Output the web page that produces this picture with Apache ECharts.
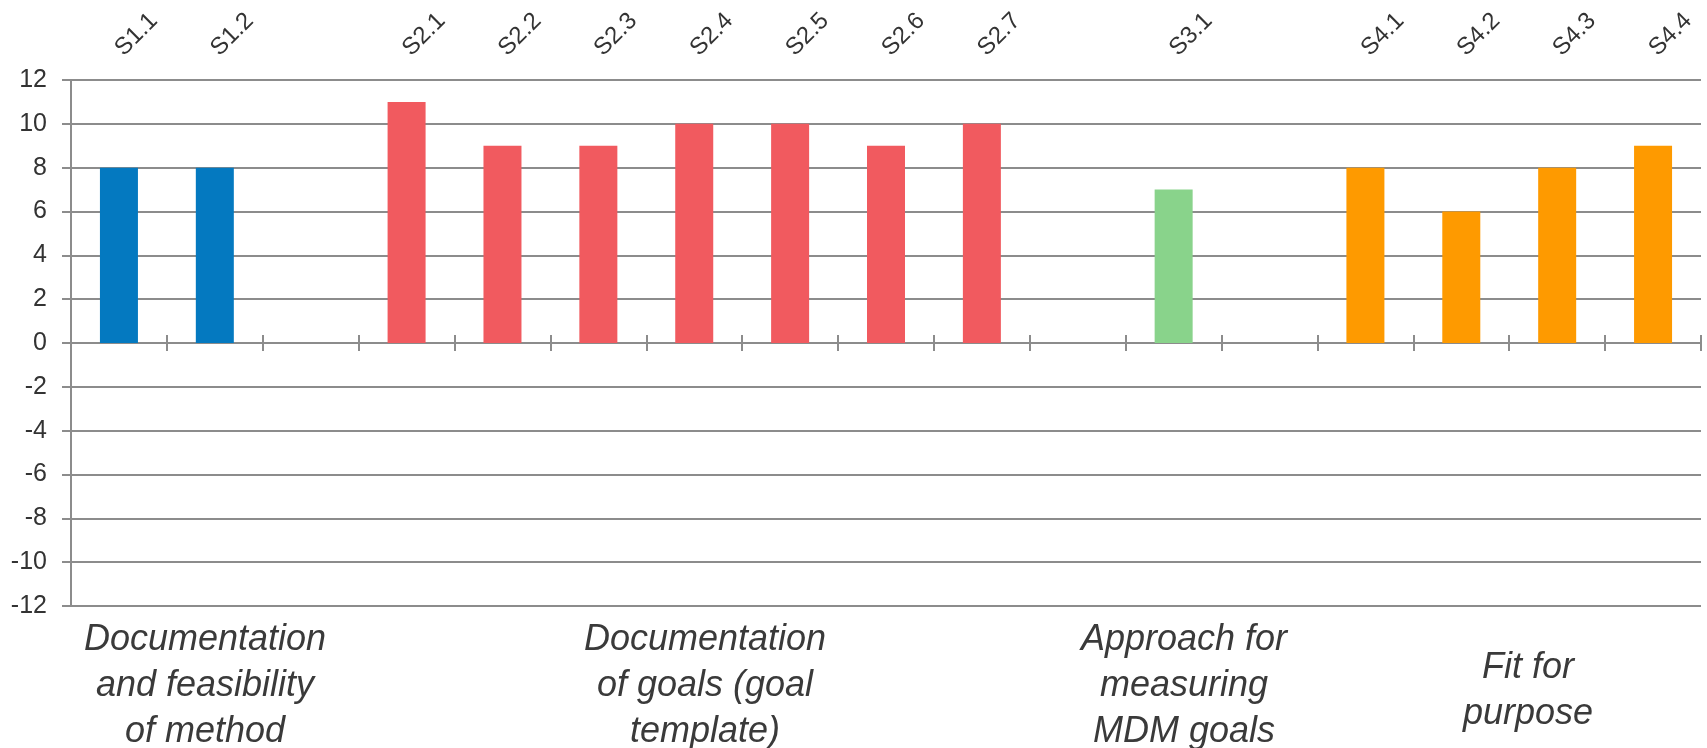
<!DOCTYPE html>
<html>
<head>
<meta charset="utf-8">
<script src="https://cdn.jsdelivr.net/npm/echarts@6/dist/echarts.min.js"></script>
<style>
  html, body { margin: 0; padding: 0; background: #ffffff; }
  #chart { width: 1707px; height: 748px; }
</style>
</head>
<body>
<div id="chart"></div>
<script>
// Criteria codes; empty strings are spacer slots between sections
const categories = ['S1.1', 'S1.2', '', 'S2.1', 'S2.2', 'S2.3', 'S2.4', 'S2.5', 'S2.6', 'S2.7', '', 'S3.1', '', 'S4.1', 'S4.2', 'S4.3', 'S4.4'];
// Score per criterion (null for spacer slots)
const scores = [8, 8, null, 11, 9, 9, 10, 10, 9, 10, null, 7, null, 8, 6, 8, 9];
// Section each slot belongs to (index into sectionColors / sectionTitles)
const sectionOf = [0, 0, 0, 1, 1, 1, 1, 1, 1, 1, 1, 2, 2, 3, 3, 3, 3];
const sectionColors = ['#0479c0', '#f15a5f', '#89d38b', '#fe9a00'];
const sectionTitles = [
  'Documentation\nand feasibility\nof method',
  'Documentation\nof goals (goal\ntemplate)',
  'Approach for\nmeasuring\nMDM goals',
  'Fit for\npurpose'
];
// Y axis range and step
const yMin = -12, yMax = 12, yStep = 2;

const gridColor = '#8c8c8c';
const textColor = '#333333';
const font = '"Liberation Sans", Arial, sans-serif';

const barData = scores.map((v, i) => ({
  value: v,
  itemStyle: { color: sectionColors[sectionOf[i]] }
}));

const chart = echarts.init(document.getElementById('chart'), null, { renderer: 'canvas' });

const grid = { left: 71, right: 6, top: 80, bottom: 142 };

// Section titles placed below the plot area
const titleX = [205, 705, 1184, 1528];
const titleY = [686, 686, 686, 691];
const graphics = sectionTitles.map((t, i) => ({
  type: 'text',
  x: titleX[i],
  y: titleY[i],
  style: {
    text: t,
    fill: '#3a3a3a',
    font: 'italic 36px ' + font,
    lineHeight: 46,
    align: 'center',
    verticalAlign: 'middle'
  },
  silent: true
}));

chart.setOption({
  animation: false,
  backgroundColor: '#ffffff',
  grid: grid,
  xAxis: [
    {
      // baseline at zero with downward ticks
      type: 'category',
      data: categories,
      position: 'bottom',
      boundaryGap: true,
      axisLine: { show: true, onZero: true, onZeroAxisIndex: 0, lineStyle: { color: gridColor, width: 2 } },
      axisTick: { show: true, inside: false, length: 8, lineStyle: { color: gridColor, width: 2 } },
      axisLabel: { show: false },
      splitLine: { show: false }
    },
    {
      // upward half of the crossing ticks on the zero line
      type: 'category',
      data: categories,
      position: 'bottom',
      boundaryGap: true,
      axisLine: { show: false, onZero: true, onZeroAxisIndex: 0 },
      axisTick: { show: true, inside: true, length: 8, lineStyle: { color: gridColor, width: 2 } },
      axisLabel: { show: false },
      splitLine: { show: false }
    },
    {
      // rotated criterion codes above the plot
      type: 'category',
      data: categories,
      position: 'top',
      boundaryGap: true,
      axisLine: { show: false, onZero: false },
      axisTick: { show: false },
      axisLabel: {
        show: true,
        rotate: -45,
        margin: 28,
        interval: 0,
        color: textColor,
        fontFamily: font,
        fontSize: 24
      },
      splitLine: { show: false }
    }
  ],
  yAxis: {
    type: 'value',
    min: yMin,
    max: yMax,
    interval: yStep,
    axisLine: { show: true, onZero: false, lineStyle: { color: gridColor, width: 2 } },
    axisTick: { show: true, length: 9, lineStyle: { color: gridColor, width: 2 } },
    axisLabel: {
      color: textColor,
      fontFamily: font,
      fontSize: 25,
      margin: 24
    },
    splitLine: { show: true, lineStyle: { color: gridColor, width: 2 } }
  },
  series: [
    {
      type: 'bar',
      xAxisIndex: 0,
      data: barData,
      barWidth: 38,
      silent: true
    }
  ],
  graphic: graphics
});
</script>
</body>
</html>
